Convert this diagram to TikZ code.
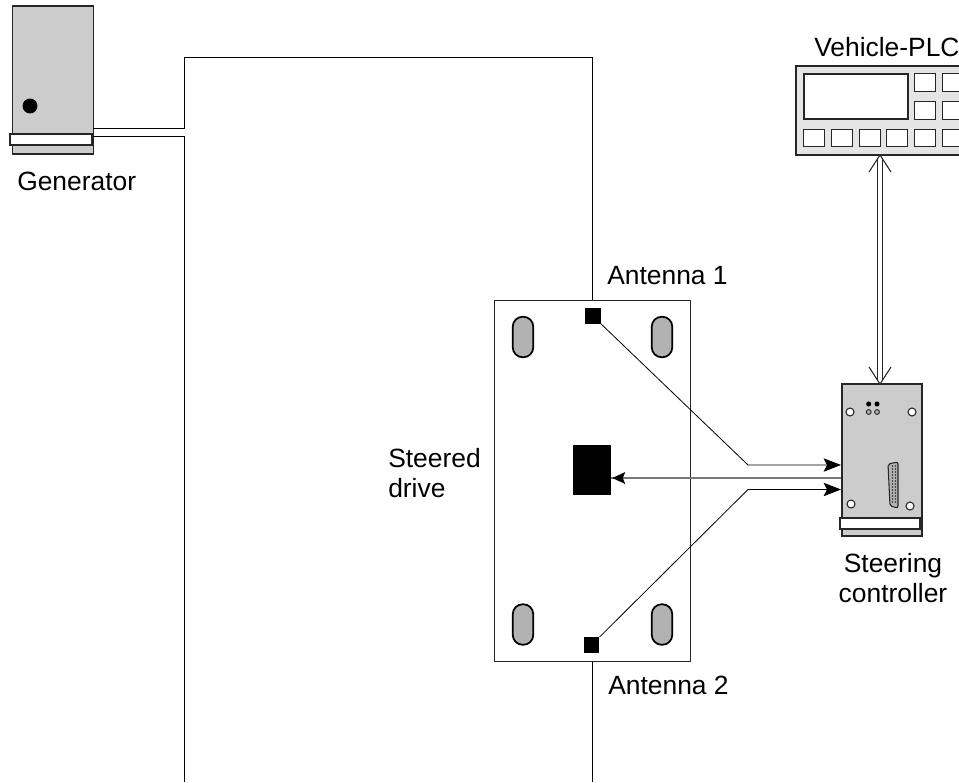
\documentclass[tikz,border=0pt]{standalone}
\usepackage{fontspec}
\setmainfont{Liberation Sans}
\usetikzlibrary{arrows.meta}
\definecolor{housing}{RGB}{204,204,204}
\definecolor{panel}{RGB}{229,229,229}
\definecolor{slotcol}{RGB}{178,178,178}
\definecolor{buscol}{RGB}{120,120,120}
\tikzset{
  partbox/.style={draw=black!85,line width=1pt,fill=housing,inner sep=0pt},
  stripbox/.style={draw=black!85,line width=1pt,fill=white,inner sep=0pt},
  keybox/.style={draw=black!85,line width=1pt,fill=white,inner sep=0pt,minimum width=20.5*0.75pt,minimum height=17.5*0.75pt},
  slotbox/.style={draw=black,line width=1.3pt,fill=slotcol,inner sep=0pt,rounded corners=7.4pt,minimum width=20.5*0.75pt,minimum height=40.5*0.75pt},
  antbox/.style={fill=black,inner sep=0pt,minimum width=15.5*0.75pt,minimum height=16*0.75pt},
  lbl/.style={font=\fontsize{19.8}{22.5}\selectfont,inner sep=0pt,text=black},
  wire/.style={draw=black,line width=0.6pt},
  feed/.style={draw=black,line width=0.6pt,-{Stealth[length=13pt,width=10pt,inset=2.5pt]}},
  hole/.style={draw=black!85,line width=0.8pt,fill=white}
}
\begin{document}
\begin{tikzpicture}[x=0.75pt,y=-0.75pt]
  \path[use as bounding box,clip] (0,0) rectangle (959,782);
  % ---------------- generator ------------------------
  \node[partbox,minimum width=81*0.75pt,minimum height=148*0.75pt] (gen) at (53,80) {};
  \node[stripbox,minimum width=82*0.75pt,minimum height=11*0.75pt] (genstrip) at (51,139.5) {};
  \fill[black] (30,106) circle (5.6pt);
  \node[lbl,anchor=base west] (genlabel) at (17,190) {Generator};
  % ---------------- steered drive --------------------
  \node[draw=black!85,line width=1pt,fill=white,inner sep=0pt,minimum width=196*0.75pt,minimum height=361*0.75pt] (drive) at (592.5,481) {};
  \node[slotbox] (slotnw) at (523,337) {};
  \node[slotbox] (slotne) at (662,337) {};
  \node[slotbox] (slotsw) at (523,624.5) {};
  \node[slotbox] (slotse) at (662,624.5) {};
  \node[fill=black,inner sep=0pt,minimum width=38*0.75pt,minimum height=50*0.75pt] (motor) at (592,470) {};
  \node[antbox] (ant1) at (592.8,316) {};
  \node[antbox] (ant2) at (591.5,645) {};
  \node[lbl,anchor=base west] (ant1label) at (607,284) {Antenna 1};
  \node[lbl,anchor=base west] (ant2label) at (608,694) {Antenna 2};
  \node[lbl,anchor=base west,align=left] (drivelabel) at (388,497) {Steered\\drive};
  % ---------------- loop wire ------------------------
  \coordinate (genout1) at (93,128);
  \coordinate (genout2) at (93,136);
  \coordinate (loopbot1) at (184,782);
  \coordinate (loopbot2) at (592,782);
  \draw[wire] (genout1) -- (184,128) -- (184,57) -- (592,57) -- (drive.north -| 592,0);
  \draw[wire] (genout2) -- (184,136) -- (loopbot1);
  \draw[wire] (drive.south -| 592,0) -- (loopbot2);
  % ---------------- steering controller --------------
  \node[partbox,minimum width=80*0.75pt,minimum height=152*0.75pt] (ctrl) at (882,460) {};
  \node[stripbox,minimum width=80*0.75pt,minimum height=11*0.75pt] (ctrlstrip) at (880,523.5) {};
  \foreach \hx/\hy in {850/412,912/412,851/504,910/506}
    \draw[hole] (\hx,\hy) circle (3pt);
  \foreach \hx in {868.7,877} {
    \fill[black] (\hx,404) circle (1.9pt);
    \draw[draw=black!85,line width=0.7pt,fill=slotcol] (\hx,412) circle (1.8pt);
  }
  % sub-D plug
  \draw[draw=black!85,line width=0.8pt,fill=slotcol,rounded corners=1.5pt]
    (888,464) -- (898,462) -- (898,508) -- (890,506) -- cycle;
  \foreach \py in {466,469,...,503} {
    \fill[black!80] (892.5,\py) circle (0.6pt);
    \fill[black!80] (895.5,\py) circle (0.6pt);
  }
  \node[lbl,align=center] (ctrllabel) at (893,578) {Steering\\controller};
  \coordinate (ctrlin1) at (841,465);
  \coordinate (ctrlin2) at (841,489.5);
  \coordinate (ctrlbus) at (841,478);
  \draw[feed] (ant1) -- (748,465) -- (ctrlin1);
  \draw[feed] (ant2) -- (748,489.5) -- (ctrlin2);
  \draw[draw=buscol,line width=1.5pt] (ctrlbus) -- (motor.east |- ctrlbus);
  \draw[draw=none,fill=black] (motor.east |- ctrlbus) ++(1,0) -- ++(13,-6) -- ++(-2.5,6) -- ++(2.5,6) -- cycle;
  % ---------------- vehicle PLC ----------------------
  \node[draw=black!85,line width=1pt,fill=panel,inner sep=0pt,minimum width=180*0.75pt,minimum height=89*0.75pt] (plc) at (886,110.5) {};
  \node[draw=black!85,line width=1pt,fill=white,inner sep=0pt,minimum width=104*0.75pt,minimum height=45*0.75pt] (screen) at (856,96.5) {};
  \foreach \kx in {925,953} {
    \node[keybox] (key\kx a) at (\kx,82.5) {};
    \node[keybox] (key\kx b) at (\kx,110.5) {};
  }
  \foreach \kx in {814,842,870,897,925,953}
    \node[keybox] (keyrow\kx) at (\kx,138) {};
  \node[lbl,anchor=base west] (plclabel) at (814,56) {Vehicle-PLC};
  \coordinate (plcport) at (880,155);
  \coordinate (ctrlport) at (880,384);
  \draw[black!85,line width=0.8pt] (877.7,158) -- (877.7,381) (882.7,158) -- (882.7,381);
  \draw[black!85,line width=0.8pt] (869,172) -- (plcport) -- (891,172);
  \draw[black!85,line width=0.8pt] (869,367) -- (ctrlport) -- (891,367);
\end{tikzpicture}
\end{document}
